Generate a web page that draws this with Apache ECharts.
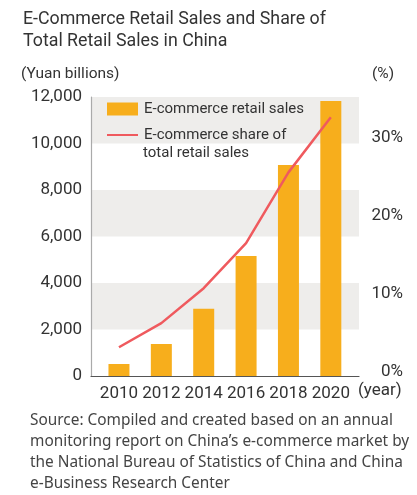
<!DOCTYPE html>
<html>
<head>
<meta charset="utf-8">
<script src="https://cdn.jsdelivr.net/npm/echarts@6/dist/echarts.min.js"></script>
<style>
  html, body { margin: 0; padding: 0; background: #fff; }
  #chart { width: 417px; height: 495px; }
</style>
</head>
<body>
<div id="chart"></div>
<script>
// data
var years = [2010, 2012, 2014, 2016, 2018, 2020];
var salesValues = [516, 1376, 2896, 5160, 9070, 11830];   // Yuan billions
var shareValues = [3.1, 6.2, 10.7, 16.5, 25.6, 32.7];     // %
var leftTicks = [0, 2000, 4000, 6000, 8000, 10000, 12000];
var rightTicks = [0, 10, 20, 30];

var sourceLines = [
    'Source: Compiled and created based on an annual',
    'monitoring report on China\u2019s e-commerce market by',
    'the National Bureau of Statistics of China and China',
    'e-Business Research Center'
];

var FONT = 'Roboto';

var chart = echarts.init(document.getElementById('chart'));

var barData = years.map(function (y, i) { return [y, salesValues[i]]; });
var lineData = years.map(function (y, i) { return [y, shareValues[i]]; });

var option = {
    animation: false,
    title: {
        text: 'E-Commerce Retail Sales and Share of\nTotal Retail Sales in China',
        left: 18,
        top: 4,
        textStyle: {
            fontFamily: FONT,
            fontSize: 17.8,
            fontWeight: 'normal',
            color: '#333',
            lineHeight: 21.5
        }
    },
    grid: {
        left: 91,
        right: 58,
        top: 97,
        bottom: 119
    },
    legend: {
        left: 106,
        top: 101,
        orient: 'vertical',
        itemWidth: 31,
        itemHeight: 13,
        itemGap: 10,
        padding: 0,
        data: [
            { name: 'E-commerce retail sales', icon: 'rect' },
            { name: 'E-commerce share of', itemStyle: { opacity: 0 } }
        ],
        textStyle: {
            fontFamily: FONT,
            fontSize: 15,
            color: '#333',
            lineHeight: 16,
            padding: [0, 0, 0, 1]
        }
    },
    xAxis: {
        type: 'value',
        min: 2008.68,
        max: 2021.33,
        splitLine: { show: false },
        axisTick: { show: false },
        axisLine: { lineStyle: { color: '#555', width: 1.2 } },
        axisLabel: {
            customValues: years,
            margin: 9,
            fontFamily: FONT,
            fontSize: 17,
            color: '#333',
            formatter: function (v) { return String(v); }
        }
    },
    yAxis: [{
        type: 'value',
        min: 0,
        max: 12000,
        interval: 2000,
        axisLine: { show: true, lineStyle: { color: '#aaa', width: 1.2 } },
        axisTick: { show: false },
        splitLine: { show: false },
        splitArea: {
            show: true,
            areaStyle: { color: ['rgba(255,255,255,0)', '#eeedeb'] }
        },
        axisLabel: {
            margin: 9,
            fontFamily: FONT,
            fontSize: 17,
            color: '#333',
            formatter: function (v) { return v.toLocaleString('en-US'); }
        }
    }, {
        type: 'value',
        min: -0.6,
        max: 35.3,
        position: 'right',
        axisLine: { show: false },
        axisTick: { show: false },
        splitLine: { show: false },
        axisLabel: {
            customValues: rightTicks,
            align: 'right',
            margin: 44,
            fontFamily: FONT,
            fontSize: 17,
            color: '#333',
            formatter: '{value}%'
        }
    }],
    graphic: [{
        type: 'text',
        left: 21,
        top: 66,
        style: { text: '(Yuan billions)', font: '15.5px ' + FONT, fill: '#333' }
    }, {
        type: 'text',
        left: 372,
        top: 66,
        style: { text: '(%)', font: '15.5px ' + FONT, fill: '#333' }
    }, {
        type: 'text',
        left: 358,
        top: 382,
        style: { text: '(year)', font: '17px ' + FONT, fill: '#333' }
    }, {
        type: 'text',
        left: 143,
        top: 146,
        style: { text: 'total retail sales', font: '15px ' + FONT, fill: '#333' }
    }, {
        type: 'text',
        left: 30,
        top: 410,
        style: {
            text: sourceLines.join('\n'),
            font: '15.4px "Noto Sans"',
            lineHeight: 21,
            fill: '#444'
        }
    }],
    series: [{
        name: 'E-commerce retail sales',
        type: 'bar',
        barWidth: 21,
        itemStyle: { color: '#f7ae1c' },
        data: barData
    }, {
        name: 'E-commerce share of',
        type: 'line',
        yAxisIndex: 1,
        symbol: 'none',
        lineStyle: { color: '#ef5a5e', width: 2.5 },
        itemStyle: { color: '#ef5a5e' },
        data: lineData
    }]
};

chart.setOption(option);
</script>
</body>
</html>
